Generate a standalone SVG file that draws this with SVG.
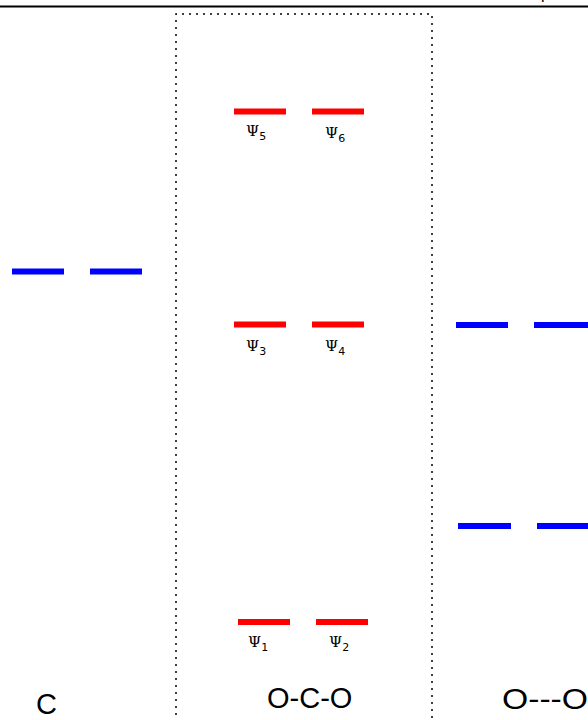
<svg xmlns="http://www.w3.org/2000/svg" width="588" height="720" viewBox="0 0 588 720">
<style>
.red{stroke:#ff0000;stroke-width:6;fill:none}
.blue{stroke:#0000ff;stroke-width:6;fill:none}
.psi{font-family:"DejaVu Serif",serif;font-size:15px;fill:#000}
.sub{font-family:"DejaVu Sans",sans-serif;font-size:11px}
.lbl{font-family:"Liberation Sans",Arial,sans-serif;font-size:29px;fill:#000}
.box{stroke:#000;stroke-width:1.5;fill:none;stroke-dasharray:2,5}
</style>
<rect width="588" height="720" fill="#fff"/>
<line x1="0" y1="6.5" x2="588" y2="6.5" stroke="#000" stroke-width="2"/>
<text x="541" y="-1.5" font-family="Liberation Sans, sans-serif" font-size="16" fill="#000">p</text>
<g id="frame">
<path class="box" d="M176,722 V14 H432 V722"/>
</g>
<g id="C-levels">
<line class="blue" x1="12" y1="271.5" x2="64" y2="271.5"/>
<line class="blue" x1="90" y1="271.5" x2="142" y2="271.5"/>
</g>
<g id="psi5"><line class="red" x1="234" y1="111.5" x2="286" y2="111.5"/><text class="psi" x="246" y="136">Ψ<tspan class="sub" dy="4">5</tspan></text></g>
<g id="psi6"><line class="red" x1="312" y1="111.5" x2="364" y2="111.5"/><text class="psi" x="325" y="138">Ψ<tspan class="sub" dy="4">6</tspan></text></g>
<g id="psi3"><line class="red" x1="234" y1="324.5" x2="286" y2="324.5"/><text class="psi" x="246" y="351">Ψ<tspan class="sub" dy="4">3</tspan></text></g>
<g id="psi4"><line class="red" x1="312" y1="324.5" x2="364" y2="324.5"/><text class="psi" x="325" y="351">Ψ<tspan class="sub" dy="4">4</tspan></text></g>
<g id="psi1"><line class="red" x1="238" y1="622" x2="290" y2="622"/><text class="psi" x="248" y="647">Ψ<tspan class="sub" dy="4">1</tspan></text></g>
<g id="psi2"><line class="red" x1="316" y1="622" x2="368" y2="622"/><text class="psi" x="329" y="647">Ψ<tspan class="sub" dy="4">2</tspan></text></g>
<g id="OO-upper">
<line class="blue" x1="456" y1="325" x2="508" y2="325"/>
<line class="blue" x1="534" y1="325" x2="588" y2="325"/>
</g>
<g id="OO-lower">
<line class="blue" x1="458" y1="526" x2="511" y2="526"/>
<line class="blue" x1="537" y1="526" x2="590" y2="526"/>
</g>
<g id="labels">
<text class="lbl" x="36" y="714">C</text>
<text class="lbl" x="267" y="708">O-C-O</text>
<text class="lbl" x="502" y="709" textLength="86" lengthAdjust="spacingAndGlyphs">O---O</text>
</g>
</svg>
